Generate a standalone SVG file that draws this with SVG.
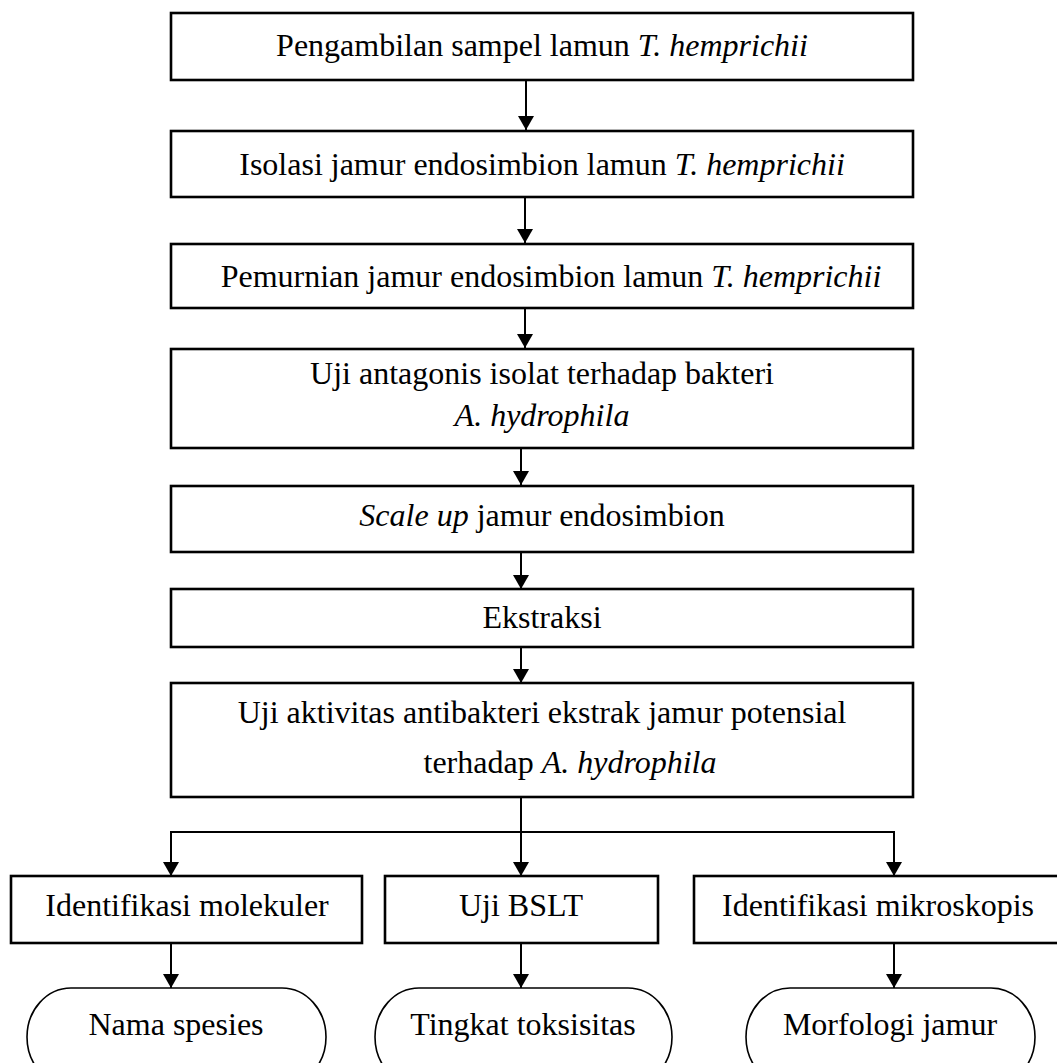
<svg xmlns="http://www.w3.org/2000/svg" width="1057" height="1063" viewBox="0 0 1057 1063">
  <style>
    .box { fill: #ffffff; stroke: #000000; stroke-width: 2.6; }
    .term { fill: #ffffff; stroke: #000000; stroke-width: 1.6; }
    .lbl { font-family: "Liberation Serif", "Times New Roman", serif; font-size: 32px; fill: #000000; text-anchor: middle; }
    .it { font-style: italic; }
    .wire { fill: none; stroke: #000000; stroke-width: 2; }
  </style>
  <defs>
    <marker id="arrow" viewBox="0 0 14 16" refX="14" refY="8" markerWidth="14" markerHeight="16" markerUnits="userSpaceOnUse" orient="auto">
      <path d="M0,0 L14,8 L0,16 Z" fill="#000000"/>
    </marker>
  </defs>
  <rect width="1057" height="1063" fill="#ffffff"/>

  <!-- connectors -->
  <g id="connectors">
    <line class="wire" x1="526" y1="80" x2="526" y2="130" marker-end="url(#arrow)"/>
    <line class="wire" x1="525" y1="197" x2="525" y2="243" marker-end="url(#arrow)"/>
    <line class="wire" x1="525" y1="308" x2="525" y2="348" marker-end="url(#arrow)"/>
    <line class="wire" x1="521" y1="448" x2="521" y2="485" marker-end="url(#arrow)"/>
    <line class="wire" x1="521" y1="552" x2="521" y2="589" marker-end="url(#arrow)"/>
    <line class="wire" x1="521" y1="647" x2="521" y2="683" marker-end="url(#arrow)"/>
    <line class="wire" x1="521" y1="797" x2="521" y2="876" marker-end="url(#arrow)"/>
    <polyline class="wire" points="171,876 171,832 894,832 894,876" marker-start="url(#arrow)"/>
    <line class="wire" x1="171" y1="832" x2="171" y2="876" marker-end="url(#arrow)"/>
    <line class="wire" x1="894" y1="832" x2="894" y2="876" marker-end="url(#arrow)"/>
    <line class="wire" x1="171" y1="943" x2="171" y2="988" marker-end="url(#arrow)"/>
    <line class="wire" x1="521" y1="943" x2="521" y2="988" marker-end="url(#arrow)"/>
    <line class="wire" x1="894" y1="943" x2="894" y2="988" marker-end="url(#arrow)"/>
  </g>

  <g id="n1">
    <rect class="box" x="171" y="13" width="742" height="67"/>
    <text class="lbl" x="542" y="56">Pengambilan sampel lamun <tspan class="it">T. hemprichii</tspan></text>
  </g>
  <g id="n2">
    <rect class="box" x="171" y="131" width="742" height="66"/>
    <text class="lbl" x="542" y="175">Isolasi jamur endosimbion lamun <tspan class="it">T. hemprichii</tspan></text>
  </g>
  <g id="n3">
    <rect class="box" x="171" y="244" width="742" height="64"/>
    <text class="lbl" x="551" y="287">Pemurnian jamur endosimbion lamun <tspan class="it">T. hemprichii</tspan></text>
  </g>
  <g id="n4">
    <rect class="box" x="171" y="349" width="742" height="99"/>
    <text class="lbl" x="542" y="384">Uji antagonis isolat terhadap bakteri</text>
    <text class="lbl it" x="542" y="426">A. hydrophila</text>
  </g>
  <g id="n5">
    <rect class="box" x="171" y="486" width="742" height="66"/>
    <text class="lbl" x="542" y="526"><tspan class="it">Scale up</tspan> jamur endosimbion</text>
  </g>
  <g id="n6">
    <rect class="box" x="171" y="589" width="742" height="58"/>
    <text class="lbl" x="542" y="628">Ekstraksi</text>
  </g>
  <g id="n7">
    <rect class="box" x="171" y="683" width="742" height="114"/>
    <text class="lbl" x="542" y="723">Uji aktivitas antibakteri ekstrak jamur potensial</text>
    <text class="lbl" x="570" y="773">terhadap <tspan class="it">A. hydrophila</tspan></text>
  </g>

  <g id="n8">
    <rect class="box" x="11" y="876" width="351" height="67"/>
    <text class="lbl" x="187" y="916">Identifikasi molekuler</text>
  </g>
  <g id="n9">
    <rect class="box" x="385" y="876" width="273" height="67"/>
    <text class="lbl" x="521" y="916">Uji BSLT</text>
  </g>
  <g id="n10">
    <rect class="box" x="694" y="876" width="366" height="67"/>
    <text class="lbl" x="878" y="916">Identifikasi mikroskopis</text>
  </g>

  <g id="n11">
    <rect class="term" x="27" y="988" width="299" height="98" rx="44" ry="49"/>
    <text class="lbl" x="176" y="1035">Nama spesies</text>
  </g>
  <g id="n12">
    <rect class="term" x="375" y="988" width="297" height="98" rx="44" ry="49"/>
    <text class="lbl" x="523" y="1035">Tingkat toksisitas</text>
  </g>
  <g id="n13">
    <rect class="term" x="746" y="988" width="289" height="98" rx="44" ry="49"/>
    <text class="lbl" x="890" y="1035">Morfologi jamur</text>
  </g>
</svg>
